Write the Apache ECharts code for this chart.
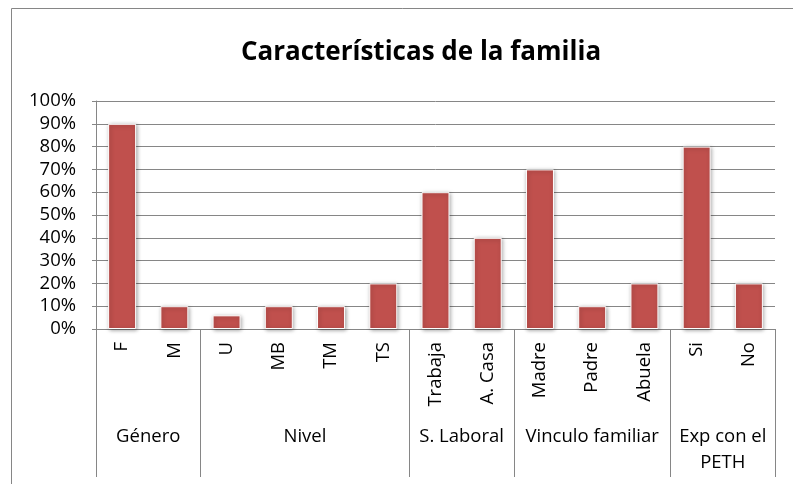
<!DOCTYPE html>
<html>
<head>
<meta charset="utf-8">
<script src="https://cdn.jsdelivr.net/npm/echarts@6/dist/echarts.min.js"></script>
<style>
  html, body { margin: 0; padding: 0; background: #fff; }
  #chart { width: 793px; height: 484px; }
</style>
</head>
<body>
<div id="chart"></div>
<script>
const categories = ['F', 'M', 'U', 'MB', 'TM', 'TS', 'Trabaja', 'A. Casa', 'Madre', 'Padre', 'Abuela', 'Si', 'No'];
const values = [90, 10, 6, 10, 10, 20, 60, 40, 70, 10, 20, 80, 20];
const groupNames = ['Género', 'Nivel', 'S. Laboral', 'Vinculo familiar', 'Exp con el\nPETH'];
const groupSizes = [2, 4, 2, 3, 2];

// group boundaries and centres along the category axis (0..13)
const bounds = [0];
groupSizes.forEach(n => bounds.push(bounds[bounds.length - 1] + n));
const centers = groupSizes.map((n, i) => bounds[i] + n / 2);

const font = '"Open Sans", sans-serif';
const grey = '#868686';

const chart = echarts.init(document.getElementById('chart'), null, { renderer: 'canvas' });
chart.setOption({
  animation: false,
  title: {
    text: 'Características de la familia',
    left: 416,
    top: 35,
    textAlign: 'center',
    textStyle: { fontFamily: font, fontSize: 26, fontWeight: 'bold', color: '#000' }
  },
  graphic: [{
    type: 'rect',
    shape: { x: 11.5, y: 8.5, width: 820, height: 520 },
    style: { fill: 'none', stroke: grey, lineWidth: 1 }
  }],
  grid: { left: 96, top: 101, right: 18, bottom: 155 },
  xAxis: [
    {
      type: 'category',
      data: categories,
      axisLine: { lineStyle: { color: grey } },
      axisTick: { show: false },
      axisLabel: { rotate: 90, margin: 13, fontFamily: font, fontSize: 18.5, color: '#000' }
    },
    {
      type: 'value',
      min: 0,
      max: categories.length,
      position: 'bottom',
      axisLine: { show: false },
      splitLine: { show: false },
      axisTick: { show: true, length: 148, customValues: bounds, lineStyle: { color: grey } },
      axisLabel: {
        customValues: centers,
        margin: 95,
        fontFamily: font, fontSize: 18.5, color: '#000', lineHeight: 26,
        formatter: v => groupNames[centers.indexOf(v)]
      }
    }
  ],
  yAxis: {
    type: 'value',
    min: 0,
    max: 100,
    interval: 10,
    axisLine: { show: true, lineStyle: { color: grey } },
    axisTick: { show: true, length: 4, lineStyle: { color: grey } },
    splitLine: { lineStyle: { color: grey, width: 1 } },
    axisLabel: { formatter: '{value}%', margin: 20, fontFamily: font, fontSize: 18.5, color: '#000' }
  },
  series: [{
    type: 'bar',
    data: values,
    xAxisIndex: 0,
    barWidth: 28,
    itemStyle: {
      color: '#C0504D',
      borderColor: '#fff',
      borderWidth: 1,
      shadowBlur: 4,
      shadowColor: 'rgba(0,0,0,0.35)',
      shadowOffsetX: 1,
      shadowOffsetY: 1
    }
  }]
});
window.addEventListener('resize', function () {
  chart.resize();
});
</script>
</body>
</html>
